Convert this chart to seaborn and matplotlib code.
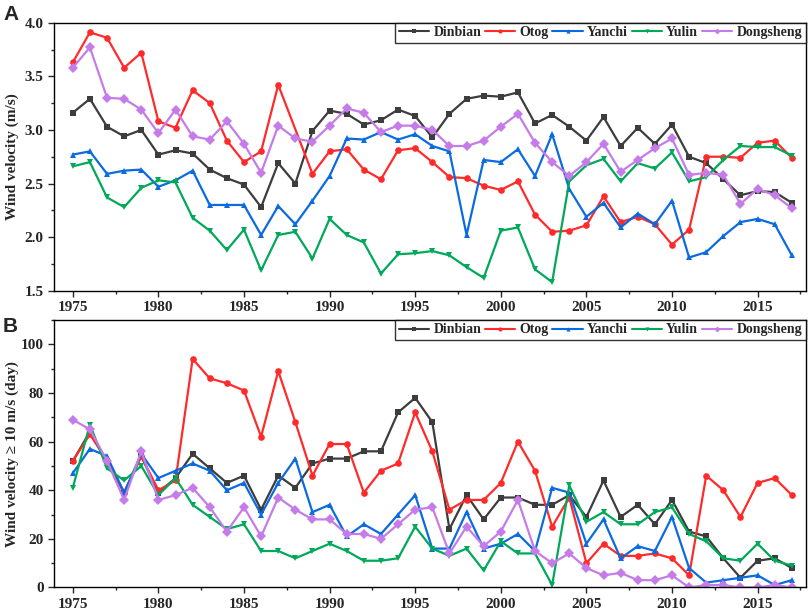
import numpy as np
import pandas as pd
import matplotlib.pyplot as plt
import seaborn as sns
from matplotlib.lines import Line2D
from matplotlib.ticker import AutoMinorLocator, MultipleLocator

# Datos
years = list(range(1975, 2018))
stations = ['Dinbian', 'Otog', 'Yanchi', 'Yulin', 'Dongsheng']

# Panel A: velocidad media del viento (m/s)
dinbian_a = [3.16, 3.29, 3.03, 2.94, 3.00, 2.77, 2.81, 2.78, 2.63, 2.55,
             2.49, 2.28, 2.69, 2.50, 2.99, 3.18, 3.15, 3.05, 3.09, 3.19,
             3.13, 2.93, 3.15, 3.29, 3.32, 3.31, 3.35, 3.06, 3.14, 3.03,
             2.90, 3.12, 2.85, 3.02, 2.87, 3.05, 2.75, 2.69, 2.54, 2.39,
             2.43, 2.42, 2.32]
otog_a = [3.63, 3.91, 3.86, 3.58, 3.72, 3.08, 3.02, 3.37, 3.25, 2.90,
          2.70, 2.80, 3.42, np.nan, 2.59, 2.80, 2.82, 2.63, 2.54, 2.81,
          2.83, 2.70, 2.56, 2.55, 2.48, 2.44, 2.52, 2.21, 2.05, 2.06,
          2.11, 2.38, 2.14, 2.19, 2.12, 1.93, 2.07, 2.75, 2.75, 2.74,
          2.88, 2.90, 2.74]
yanchi_a = [2.77, 2.80, 2.59, 2.62, 2.63, 2.47, 2.53, 2.62, 2.30, 2.30,
            2.30, 2.02, 2.29, 2.12, 2.34, 2.57, 2.92, 2.91, 2.98, 2.91,
            2.96, 2.85, 2.80, 2.02, 2.72, 2.70, 2.82, 2.57, 2.96, 2.45,
            2.19, 2.32, 2.09, 2.22, 2.12, 2.34, 1.81, 1.86, 2.01, 2.14,
            2.17, 2.12, 1.83]
yulin_a = [2.66, 2.70, 2.37, 2.28, 2.46, 2.53, 2.51, 2.18, 2.06, 1.88,
           2.07, 1.69, 2.02, 2.05, 1.80, 2.17, 2.02, 1.95, 1.66, 1.84,
           1.85, 1.87, 1.83, 1.72, 1.62, 2.06, 2.09, 1.70, 1.58, 2.52,
           2.67, 2.73, 2.52, 2.69, 2.64, 2.79, 2.52, 2.56, 2.72, 2.85,
           2.84, 2.84, 2.76]
dongsheng_a = [3.58, 3.77, 3.30, 3.29, 3.19, 2.97, 3.19, 2.94, 2.91, 3.08,
               2.87, 2.60, 3.04, 2.92, 2.89, 3.04, 3.20, 3.16, 2.98, 3.04,
               3.04, 3.00, 2.85, 2.85, 2.90, 3.03, 3.15, 2.88, 2.70, 2.57,
               2.70, 2.87, 2.61, 2.72, 2.83, 2.92, 2.58, 2.60, 2.58, 2.31,
               2.45, 2.39, 2.27]

# Panel B: dias con viento >= 10 m/s
dinbian_b = [52, 64, 52, 39, 54, 39, 45, 55, 49, 43,
             46, 32, 46, 41, 51, 53, 53, 56, 56, 72,
             78, 68, 24, 38, 28, 37, 37, 34, 34, 38,
             29, 44, 29, 34, 26, 36, 23, 21, 12, 4,
             11, 12, 8]
otog_b = [52, 63, 52, 39, 54, 40, 44, 94, 86, 84,
          81, 62, 89, 68, 46, 59, 59, 39, 48, 51,
          72, 56, 32, 36, 36, 43, 60, 48, 25, 37,
          10, 18, 13, 13, 14, 12, 5, 46, 40, 29,
          43, 45, 38]
yanchi_b = [47, 57, 54, 39, 55, 45, 48, 51, 48, 40,
            43, 30, 43, 53, 31, 34, 21, 26, 22, 30,
            38, 16, 16, 31, 16, 18, 22, 15, 41, 39,
            18, 28, 12, 17, 15, 29, 8, 2, 3, 4,
            5, 1, 3]
yulin_b = [41, 67, 49, 44, 50, 38, 45, 34, 29, 24,
           26, 15, 15, 12, 15, 18, 15, 11, 11, 12,
           25, 16, 13, 16, 7, 19, 14, 14, 1, 42,
           27, 31, 26, 26, 31, 33, 22, 19, 12, 11,
           18, 11, 9]
dongsheng_b = [69, 65, 52, 36, 56, 36, 38, 41, 33, 23,
               33, 21, 37, 32, 28, 28, 22, 22, 20, 26,
               32, 33, 14, 25, 17, 23, 36, 15, 10, 14,
               8, 5, 6, 3, 3, 5, 0, 1, 1, 0,
               0, 1, 0]

colores = {'Dinbian': '#3d3d3d', 'Otog': '#ff2b2b', 'Yanchi': '#0a6be0',
           'Yulin': '#00a85a', 'Dongsheng': '#c57be8'}
marcadores = {'Dinbian': 's', 'Otog': 'o', 'Yanchi': '^', 'Yulin': 'v', 'Dongsheng': 'D'}


def armar_df(series):
    filas = []
    for nombre, valores in zip(stations, series):
        for y, v in zip(years, valores):
            filas.append((y, v, nombre))
    df = pd.DataFrame(filas, columns=['year', 'value', 'station'])
    return df.dropna()


df_a = armar_df([dinbian_a, otog_a, yanchi_a, yulin_a, dongsheng_a])
df_b = armar_df([dinbian_b, otog_b, yanchi_b, yulin_b, dongsheng_b])

sns.set_style('ticks')
plt.rcParams['font.family'] = ['Liberation Serif', 'DejaVu Serif']
plt.rcParams['font.weight'] = 'bold'

fig = plt.figure(figsize=(8.09, 6.14), dpi=100)
ax_a = fig.add_axes([0.0667, 0.5265, 0.929, 0.4365])
ax_b = fig.add_axes([0.0667, 0.0432, 0.929, 0.4356])

for ax, df in [(ax_a, df_a), (ax_b, df_b)]:
    sns.lineplot(data=df, x='year', y='value', hue='station', style='station',
                 hue_order=stations, style_order=stations, palette=colores,
                 markers=marcadores, dashes=False, errorbar=None, legend=False,
                 linewidth=1.6, markersize=4.8, markeredgewidth=0, ax=ax)
    ax.set_xlim(1973.9, 2017.8)
    ax.xaxis.set_major_locator(MultipleLocator(5))
    ax.xaxis.set_minor_locator(AutoMinorLocator(2))
    ax.yaxis.set_minor_locator(AutoMinorLocator(2))
    ax.tick_params(which='major', direction='out', length=4.5, width=1,
                   labelsize=11, pad=3)
    ax.tick_params(which='minor', direction='out', length=2.5, width=1)
    for lab in ax.get_xticklabels() + ax.get_yticklabels():
        lab.set_fontweight('bold')
    for sp in ax.spines.values():
        sp.set_linewidth(1.0)
        sp.set_color('black')
    ax.set_xlabel('')

    handles = [Line2D([], [], color=colores[s], marker=marcadores[s], markersize=3,
                      markeredgewidth=0, linewidth=1.5) for s in stations]
    ax.legend(handles, stations, loc='upper right', bbox_to_anchor=(1, 1),
              ncol=5, frameon=True, fancybox=False, edgecolor='black',
              borderaxespad=0, handlelength=2.2, handletextpad=0.3,
              columnspacing=0.25, borderpad=0.25,
              prop={'family': 'Liberation Serif', 'weight': 'bold', 'size': 10})
    ax.get_legend().get_frame().set_linewidth(1.0)

ax_a.set_ylim(1.5, 4.0)
ax_a.yaxis.set_major_locator(MultipleLocator(0.5))
ax_a.yaxis.set_major_formatter(plt.FormatStrFormatter('%.1f'))
ax_a.set_ylabel('Wind velocity (m/s)', fontsize=11, fontweight='bold')

ax_b.set_ylim(0, 110)
ax_b.yaxis.set_major_locator(MultipleLocator(20))
ax_b.set_ylabel('Wind velocity \u2265 10 m/s (day)', fontsize=11, fontweight='bold')

for ax in (ax_a, ax_b):
    ax.yaxis.set_label_coords(-0.046, 0.5)

fig.text(3 / 809, 1 - 20 / 614, 'A', fontsize=15, fontweight='bold',
         family='Liberation Sans', va='baseline')
fig.text(3 / 809, 1 - 332 / 614, 'B', fontsize=15, fontweight='bold',
         family='Liberation Sans', va='baseline')

fig.savefig('out.png', dpi=100)
